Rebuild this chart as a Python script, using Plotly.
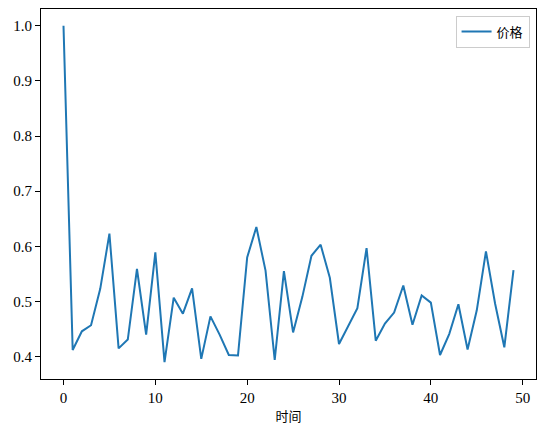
import plotly.graph_objects as go

time = list(range(50))
price = [1.000, 0.412, 0.446, 0.457, 0.523, 0.623, 0.415, 0.431, 0.559, 0.440,
         0.589, 0.390, 0.507, 0.478, 0.524, 0.396, 0.473, 0.440, 0.403, 0.402,
         0.580, 0.635, 0.556, 0.394, 0.555, 0.444, 0.508, 0.583, 0.603, 0.543,
         0.423, 0.457, 0.488, 0.597, 0.429, 0.460, 0.480, 0.529, 0.458, 0.511,
         0.498, 0.403, 0.441, 0.495, 0.413, 0.484, 0.591, 0.496, 0.417, 0.557]
series_name = "价格"
x_title = "时间"
x_ticks = [0, 10, 20, 30, 40, 50]
y_ticks = [0.4, 0.5, 0.6, 0.7, 0.8, 0.9, 1.0]

font_family = "Liberation Serif, DejaVu Serif, Noto Sans CJK SC, serif"

fig = go.Figure()
fig.add_trace(go.Scatter(x=time, y=price, mode="lines", name=series_name,
                         line=dict(color="#1f77b4", width=2), showlegend=True))

axis_common = dict(showline=True, linecolor="black", linewidth=1, mirror=True,
                   ticks="outside", ticklen=5, tickwidth=1, tickcolor="black",
                   showgrid=False, zeroline=False, automargin=False,
                   tickfont=dict(family=font_family, size=15, color="black"))

fig.update_layout(
    width=546, height=436,
    margin=dict(l=41, r=10, t=9, b=57, autoexpand=False),
    paper_bgcolor="white", plot_bgcolor="white",
    font=dict(family=font_family, size=14, color="black"),
    xaxis=dict(range=[-2.45, 51.45], tickvals=x_ticks,
               ticktext=[str(v) for v in x_ticks],
               title=dict(text=x_title, standoff=6,
                          font=dict(family="Noto Sans CJK SC", size=13)),
               **axis_common),
    yaxis=dict(range=[0.3595, 1.0305], tickvals=y_ticks,
               ticktext=[f"{v:.1f}" for v in y_ticks], **axis_common),
    legend=dict(x=0.987, y=0.982, xanchor="right", yanchor="top",
                bordercolor="#cccccc", borderwidth=1, bgcolor="white",
                font=dict(family="Noto Sans CJK SC", size=13)),
)

fig.write_html("out.html", config={"displayModeBar": False},
               post_script="document.body.style.margin='0';document.body.style.overflow='hidden';")
